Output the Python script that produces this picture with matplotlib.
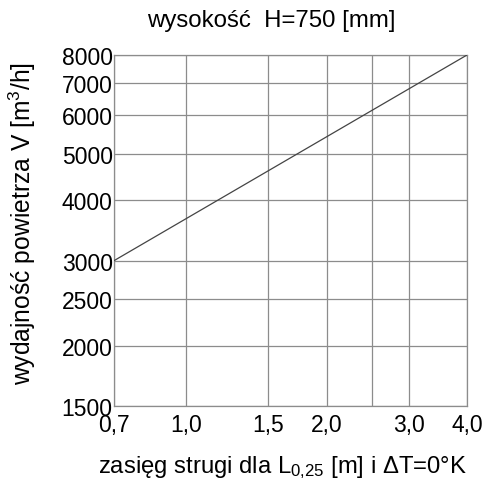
import numpy as np
import matplotlib
matplotlib.use("Agg")
import matplotlib.pyplot as plt
from matplotlib.ticker import FixedLocator, NullLocator

plt.rcParams['font.family'] = ['Liberation Sans', 'DejaVu Sans']
plt.rcParams['mathtext.default'] = 'regular'

# data
range_m = [0.7, 4.0]
flow_m3h = [3000, 8000]

x_grid = [0.7, 1.0, 1.5, 2.0, 2.5, 3.0, 4.0]
x_ticks = [0.7, 1.0, 1.5, 2.0, 3.0, 4.0]
x_ticklabels = ["0,7", "1,0", "1,5", "2,0", "3,0", "4,0"]
y_ticks = [1500, 2000, 2500, 3000, 4000, 5000, 6000, 7000, 8000]
y_ticklabels = [str(v) for v in y_ticks]

grid_color = "#8c8c8c"

fig = plt.figure(figsize=(4.88, 4.81), dpi=100)
ax = fig.add_axes([0.2336, 0.1538, 0.7234, 0.7298])

ax.set_xscale("log")
ax.set_yscale("log")
ax.set_xlim(0.7, 4.0)
ax.set_ylim(1500, 8000)

for xv in x_grid:
    ax.axvline(xv, color=grid_color, lw=0.9, zorder=1)
for yv in y_ticks:
    ax.axhline(yv, color=grid_color, lw=0.9, zorder=1)

ax.plot(range_m, flow_m3h, color="#444444", lw=0.9, zorder=3)

ax.xaxis.set_major_locator(FixedLocator(x_ticks))
ax.xaxis.set_minor_locator(NullLocator())
ax.set_xticklabels(x_ticklabels)
ax.yaxis.set_major_locator(FixedLocator(y_ticks))
ax.yaxis.set_minor_locator(NullLocator())
ax.set_yticklabels(y_ticklabels)

ax.tick_params(axis="both", length=0, labelsize=16.5, colors="black")
ax.tick_params(axis="x", pad=5)
ax.tick_params(axis="y", pad=1)

for s in ax.spines.values():
    s.set_color(grid_color)
    s.set_linewidth(0.9)

ax.set_title("wysokość  H=750 [mm]", fontsize=17.3, x=0.445, pad=21)
ax.set_xlabel("zasięg strugi dla L$_{0{,}25}$ [m] i ΔT=0°K", fontsize=17.2)
ax.xaxis.set_label_coords(0.478, -0.133)
ax.set_ylabel("wydajność powietrza V [m$^3$/h]", fontsize=17.7)
ax.yaxis.set_label_coords(-0.215, 0.523)

fig.savefig("out.png", dpi=100)
